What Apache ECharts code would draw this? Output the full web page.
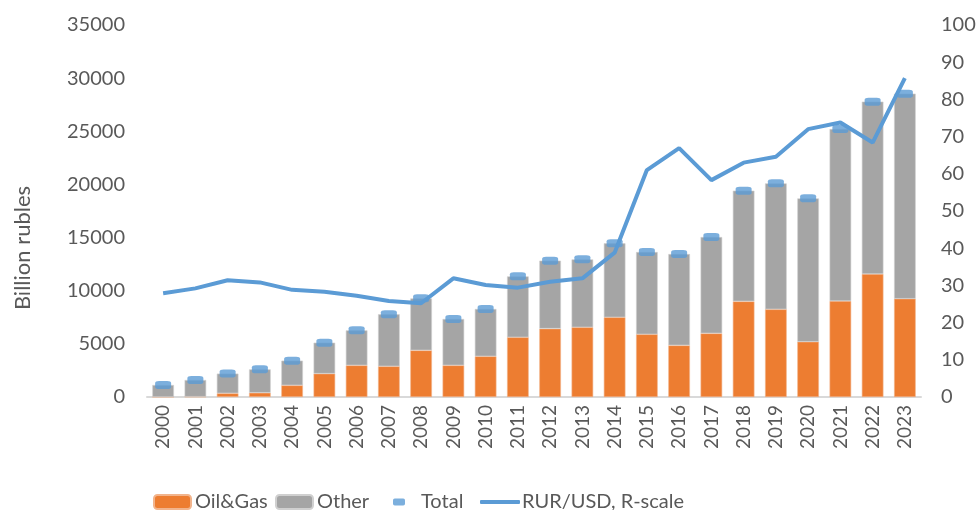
<!DOCTYPE html>
<html><head><meta charset="utf-8">
<script src="https://cdn.jsdelivr.net/npm/echarts@6/dist/echarts.min.js"></script>
<style>html,body{margin:0;padding:0;background:#fff}#c{width:980px;height:510px}</style>
</head><body><div id="c"></div>
<script>
const years = ['2000','2001','2002','2003','2004','2005','2006','2007','2008','2009','2010','2011','2012','2013','2014','2015','2016','2017','2018','2019','2020','2021','2022','2023'];
const oilGas = [0,30,350,400,1100,2200,2980,2890,4390,2980,3830,5620,6430,6560,7500,5900,4860,5990,9000,8250,5200,9030,11570,9250];
const total = [1130,1600,2200,2600,3420,5110,6270,7780,9280,7340,8280,11350,12830,12950,14460,13640,13450,15050,19410,20100,18690,25210,27790,28540];
const rurUsd = [27.9,29.2,31.4,30.8,28.8,28.3,27.2,25.8,25.2,31.9,30.1,29.4,31.0,31.9,38.8,61.0,66.9,58.3,63.0,64.6,72.0,73.8,68.4,85.7];
const other = total.map((t,i)=>t-oilGas[i]);

const FONT = 'Lato';
const TXT = '#595959';
const legTxt = {fontSize:20,color:TXT,fontFamily:FONT};
const chart = echarts.init(document.getElementById('c'));
chart.setOption({
  animation:false,
  textStyle:{fontFamily:FONT},
  grid:{left:147,right:59,top:25,bottom:113},
  legend:[
    {left:148,top:487,itemWidth:37,itemHeight:14,textStyle:Object.assign({padding:[0,0,0,-1]},legTxt),data:['Oil&Gas']},
    {left:270,top:487,itemWidth:37,itemHeight:14,textStyle:Object.assign({padding:[0,0,0,-1]},legTxt),data:['Other']},
    {left:388,top:487,itemWidth:12,itemHeight:7,textStyle:Object.assign({padding:[0,0,0,11]},legTxt),
     data:[{name:'Total',icon:'roundRect'}]},
    {left:475,top:487,itemWidth:40,itemHeight:4,textStyle:Object.assign({padding:[0,0,0,-3]},legTxt),
     data:[{name:'RUR/USD, R-scale',icon:'roundRect'}]}
  ],
  xAxis:{type:'category',data:years,
    axisLine:{lineStyle:{color:'#D9D9D9',width:2}},axisTick:{show:false},
    axisLabel:{rotate:90,fontSize:19,color:TXT,margin:8,fontFamily:FONT}},
  yAxis:[
    {type:'value',min:0,max:35000,interval:5000,name:'Billion rubles',nameLocation:'middle',nameGap:113,
     nameTextStyle:{fontSize:22,color:TXT,fontFamily:FONT,padding:[0,74,0,0]},
     splitLine:{show:false},axisLine:{show:false},axisTick:{show:false},
     axisLabel:{fontSize:20,color:TXT,margin:22,fontFamily:FONT,formatter:v=>String(v)}},
    {type:'value',min:0,max:100,interval:10,position:'right',
     splitLine:{show:false},axisLine:{show:false},axisTick:{show:false},
     axisLabel:{fontSize:20,color:TXT,margin:20,fontFamily:FONT,formatter:v=>String(v)}}
  ],
  series:[
    {name:'Oil&Gas',type:'bar',stack:'s',data:oilGas,barWidth:'67%',
     itemStyle:{color:'#ED7D31',borderColor:'#F2B48C',borderWidth:0.6}},
    {name:'Other',type:'bar',stack:'s',data:other,barWidth:'67%',
     itemStyle:{color:'#A5A5A5',borderColor:'#D0D0D0',borderWidth:0.6}},
    {name:'Total',type:'scatter',data:total,symbol:'roundRect',symbolSize:[16,8],
     itemStyle:{color:'#5B9BD5'},z:5},
    {name:'RUR/USD, R-scale',type:'line',yAxisIndex:1,data:rurUsd,symbol:'none',
     lineStyle:{color:'#5B9BD5',width:4},itemStyle:{color:'#5B9BD5'},z:6}
  ]
});
</script></body></html>
